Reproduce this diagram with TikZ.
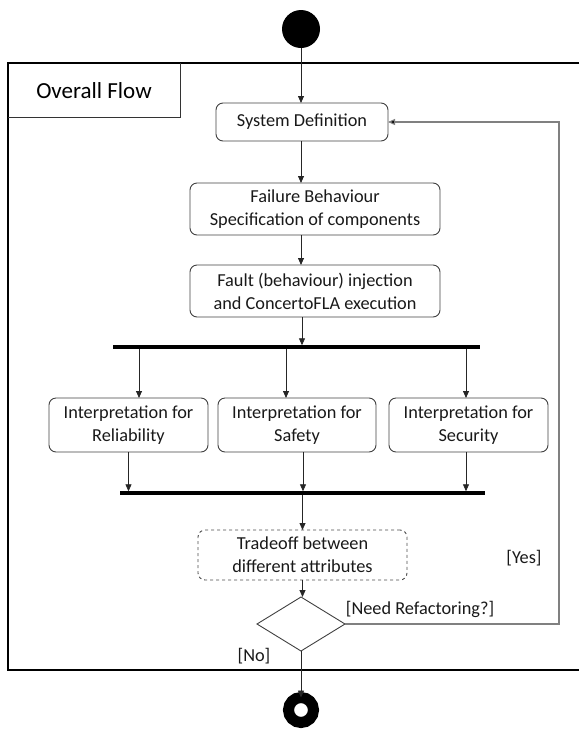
\documentclass[tikz,border=0pt]{standalone}
\usepackage{fontspec}
\setmainfont{Carlito}
\usetikzlibrary{arrows.meta,shapes.geometric}
\begin{document}
\begin{tikzpicture}[x=1pt,y=-1pt,
  every node/.style={inner sep=0pt,outer sep=0pt},
  txt/.style={font=\fontsize{18.3}{23}\selectfont,text=black!90,align=center},
  actbox/.style={txt,draw=black!75,line width=0.9pt,rounded corners=7pt},
  bar/.style={fill=black,minimum height=3.4pt},
  arr/.style={draw=black!85,line width=0.8pt,-{Triangle[length=7pt,width=6pt]}},
  retline/.style={draw=black!50,line width=1.1pt,-{Triangle[length=7pt,width=6pt,fill=black]}},
  frameline/.style={draw=black,line width=1.3pt}]
\useasboundingbox (0,0) rectangle (579,729);
% frame
\draw[frameline] (579,63) -- (8,63) -- (8,670) -- (579,670);
\draw[draw=black!80,line width=1pt] (8,117) -- (180,117) -- (180,63);
\node[font=\fontsize{23}{28}\selectfont] (title) at (94,91) {Overall Flow};
% nodes
\node[circle,fill=black,minimum size=38pt] (start) at (301,29) {};
\node[actbox,minimum width=172pt,minimum height=38pt] (sysdef) at (302,122) {System Definition};
\node[actbox,minimum width=250pt,minimum height=52pt] (fail) at (315,209) {Failure Behaviour\\Specification of components};
\node[actbox,minimum width=250pt,minimum height=52pt] (fault) at (315,291) {Fault (behaviour) injection\\and ConcertoFLA execution};
\node[bar,minimum width=367pt] (fork) at (296.5,347) {};
\node[actbox,minimum width=159pt,minimum height=54pt] (rel) at (128.5,425) {Interpretation for\\Reliability};
\node[actbox,minimum width=158pt,minimum height=54pt] (saf) at (297,425) {Interpretation for\\Safety};
\node[actbox,minimum width=159pt,minimum height=54pt] (sec) at (468.5,425) {Interpretation for\\Security};
\node[bar,minimum width=365pt] (join) at (302.5,493) {};
\node[actbox,dashed,draw=black!70,minimum width=209pt,minimum height=50pt] (trade) at (302.5,555) {Tradeoff between\\different attributes};
\node[diamond,draw=black!75,line width=0.9pt,minimum width=88pt,minimum height=54pt] (dec) at (301,624) {};
\node[circle,draw=black,line width=11pt,fill=white,minimum size=25pt] (end) at (301,710) {};
\coordinate (ret) at (559,122);
% labels
\node[txt] (lneed) at (420,609) {[Need Refactoring?]};
\node[txt] (lyes) at (524,558) {[Yes]};
\node[txt] (lno) at (254,656) {[No]};
% connectors
\draw[arr] (start.south) -- (start.south |- sysdef.north);
\draw[arr] (sysdef.south -| start) -- (start |- fail.north);
\draw[arr] (fail.south -| start) -- (start |- fault.north);
\draw[arr] ([xshift=1pt]fault.south -| start) -- ([xshift=1pt]start |- fork.north);
\draw[arr] ([xshift=10.5pt]rel.north |- fork.south) -- ([xshift=10.5pt]rel.north);
\draw[arr] ([xshift=-11pt]saf.north |- fork.south) -- ([xshift=-11pt]saf.north);
\draw[arr] ([xshift=-2.5pt]sec.north |- fork.south) -- ([xshift=-2.5pt]sec.north);
\draw[arr] (rel.south) -- (rel.south |- join.north);
\draw[arr] ([xshift=6pt]saf.south) -- ([xshift=6pt]saf.south |- join.north);
\draw[arr] ([xshift=-2.5pt]sec.south) -- ([xshift=-2.5pt]sec.south |- join.north);
\draw[arr] (join.south -| trade) -- (trade.north);
\draw[arr] (trade.south) -- (trade.south |- dec.north);
\draw[retline] (dec.east) -| (ret) -- (sysdef.east);
\draw[arr] (dec.south) -- (end.north);
\end{tikzpicture}
\end{document}
